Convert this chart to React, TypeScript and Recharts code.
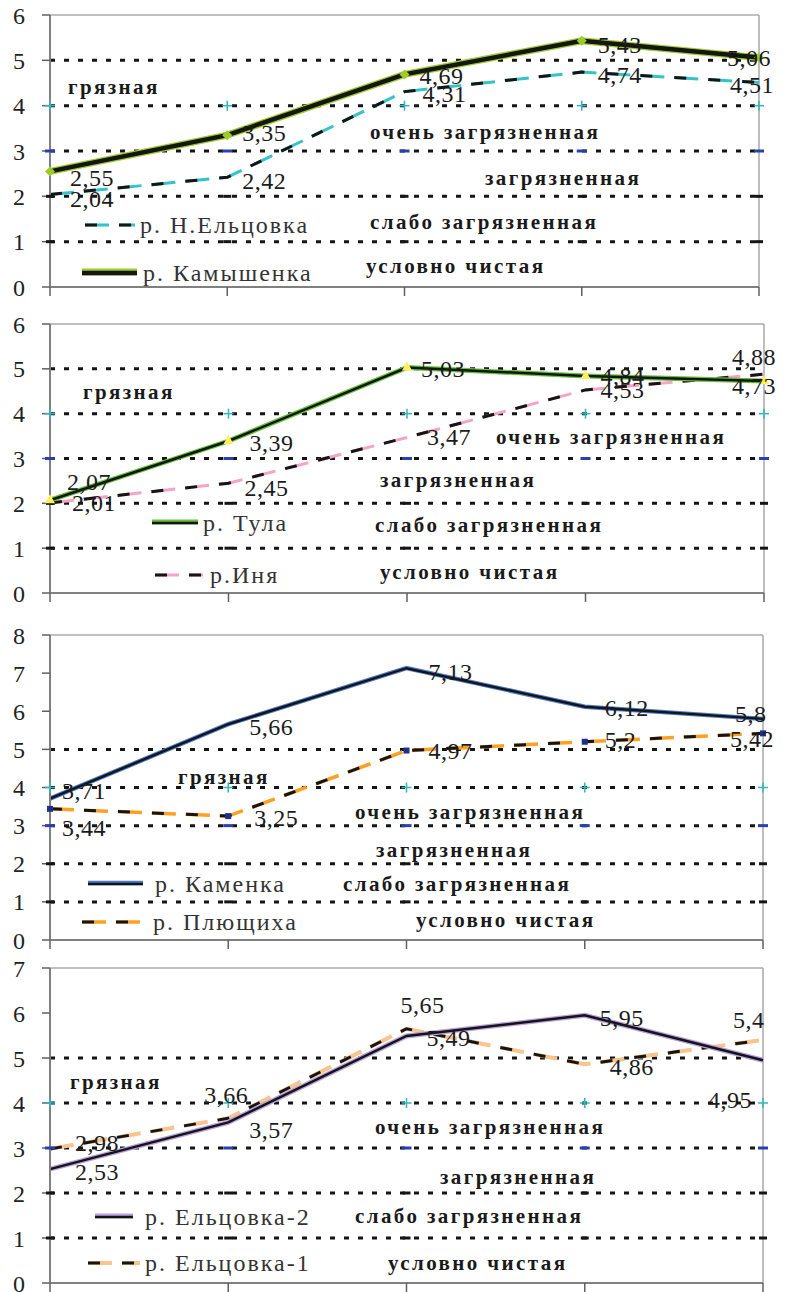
import { LabelList, Line, LineChart, ReferenceDot, ReferenceLine, XAxis, YAxis } from "recharts";

// sampling points along each river (the figure prints no x labels)
const POINTS = ["1", "2", "3", "4", "5"];

const KAMYSHENKA = [2.55, 3.35, 4.69, 5.43, 5.06];
const N_ELTSOVKA = [2.04, 2.42, 4.31, 4.74, 4.51];
const TULA = [2.07, 3.39, 5.03, 4.84, 4.73];
const INYA = [2.01, 2.45, 3.47, 4.53, 4.88];
const KAMENKA = [3.71, 5.66, 7.13, 6.12, 5.8];
const PLYUSHCHIKHA = [3.44, 3.25, 4.97, 5.2, 5.42];
const ELTSOVKA_2 = [2.53, 3.57, 5.49, 5.95, 4.95];
const ELTSOVKA_1 = [2.98, 3.66, 5.65, 4.86, 5.4];

// water quality class boundaries and class names (bottom to top)
const CLASS_BOUNDS = [1, 2, 3, 4, 5];
const CLASS_NAMES = ["условно чистая", "слабо загрязненная", "загрязненная", "очень загрязненная", "грязная"];

const Y_TICKS_6 = [0, 1, 2, 3, 4, 5, 6];
const Y_TICKS_8 = [0, 1, 2, 3, 4, 5, 6, 7, 8];
const Y_TICKS_7 = [0, 1, 2, 3, 4, 5, 6, 7];

const SERIF = "Liberation Serif, Times New Roman, Times, Tinos, Noto Serif, DejaVu Serif, serif";
const INK = "#151515";

type Series = {
  name: string;
  values: number[];
  color: string;
  colorWidth: number;
  blackWidth: number;
  marker?: "diamond" | "triangle" | "square";
  markerColor?: string;
  // label placement: offset of the label's left edge / vertical centre from the point
  labelAt: [number, number][];
};

type Panel = {
  top: number;
  height: number;
  margin: { top: number; right: number; bottom: number };
  xAxisHeight: number;
  ticks: number[];
  solid: Series;
  dashed: Series;
  zones: [number, number][]; // left, centre y for CLASS_NAMES (page coords)
  legend: { which: "solid" | "dashed"; x1: number; x2: number; y: number; tx: number }[];
};

const PANELS: Panel[] = [
  {
    top: 0,
    height: 300,
    margin: { top: 15, right: 27, bottom: 3 },
    xAxisHeight: 10,
    ticks: Y_TICKS_6,
    solid: {
      name: "р. Камышенка",
      values: KAMYSHENKA,
      color: "#9ccc2c",
      colorWidth: 7,
      blackWidth: 4.5,
      marker: "diamond",
      markerColor: "#9ccc2c",
      labelAt: [[20, 7], [15, -2], [15, 2], [16, 4], [-32, 0]],
    },
    dashed: {
      name: "р. Н.Ельцовка",
      values: N_ELTSOVKA,
      color: "#33c3c8",
      colorWidth: 3,
      blackWidth: 3,
      labelAt: [[20, 4], [15, 4], [18, 2], [16, 3], [-29, 2]],
    },
    zones: [[366, 266], [370, 222], [485, 178], [370, 132], [68, 87]],
    legend: [
      { which: "dashed", x1: 85, x2: 135, y: 225, tx: 140 },
      { which: "solid", x1: 82, x2: 137, y: 273, tx: 143 },
    ],
  },
  {
    top: 300,
    height: 310,
    margin: { top: 24, right: 22, bottom: 7 },
    xAxisHeight: 10,
    ticks: Y_TICKS_6,
    solid: {
      name: "р. Тула",
      values: TULA,
      color: "#66c23a",
      colorWidth: 5,
      blackWidth: 2.5,
      marker: "triangle",
      markerColor: "#ffef5a",
      labelAt: [[17, -18], [21, 2], [14, 2], [15, 0], [-32, 5]],
    },
    dashed: {
      name: "р.Иня",
      values: INYA,
      color: "#f5a3c7",
      colorWidth: 3,
      blackWidth: 3,
      labelAt: [[22, 0], [16, 5], [20, 0], [15, 0], [-32, -17]],
    },
    zones: [[380, 572], [375, 525], [380, 480], [496, 437], [83, 392]],
    legend: [
      { which: "solid", x1: 152, x2: 198, y: 523, tx: 203 },
      { which: "dashed", x1: 155, x2: 203, y: 575, tx: 210 },
    ],
  },
  {
    top: 610,
    height: 352,
    margin: { top: 25, right: 23, bottom: 12 },
    xAxisHeight: 10,
    ticks: Y_TICKS_8,
    solid: {
      name: "р. Каменка",
      values: KAMENKA,
      color: "#4b7bd3",
      colorWidth: 4.5,
      blackWidth: 2.5,
      labelAt: [[12, -8], [21, 3], [22, 4], [20, 1], [-28, -5]],
    },
    dashed: {
      name: "р. Плющиха",
      values: PLYUSHCHIKHA,
      color: "#ffa025",
      colorWidth: 3.5,
      blackWidth: 3,
      marker: "square",
      markerColor: "#1f2f8c",
      labelAt: [[12, 19], [26, 2], [22, 0], [20, -2], [-33, 6]],
    },
    zones: [[416, 920], [343, 884], [376, 850], [355, 812], [178, 777]],
    legend: [
      { which: "solid", x1: 88, x2: 143, y: 884, tx: 155 },
      { which: "dashed", x1: 82, x2: 150, y: 922, tx: 153 },
    ],
  },
  {
    top: 950,
    height: 342,
    margin: { top: 18, right: 23, bottom: 0 },
    xAxisHeight: 9,
    ticks: Y_TICKS_7,
    solid: {
      name: "р. Ельцовка-2",
      values: ELTSOVKA_2,
      color: "#b9a0e2",
      colorWidth: 5,
      blackWidth: 2.5,
      labelAt: [[25, 3], [21, 8], [20, 2], [15, 3], [-55, 40]],
    },
    dashed: {
      name: "р. Ельцовка-1",
      values: ELTSOVKA_1,
      color: "#f9c48e",
      colorWidth: 4,
      blackWidth: 3,
      labelAt: [[25, -6], [-24, -23], [-6, -24], [25, 3], [-30, -20]],
    },
    zones: [[388, 1263], [355, 1216], [440, 1177], [375, 1127], [70, 1082]],
    legend: [
      { which: "solid", x1: 95, x2: 133, y: 1217, tx: 145 },
      { which: "dashed", x1: 88, x2: 140, y: 1263, tx: 145 },
    ],
  },
];

const fmt = (v: number) => String(v).replace(".", ",");

function markerDot(kind: Series["marker"], color?: string) {
  if (!kind) return false;
  return (p: any) => {
    const { cx, cy, index } = p;
    if (cx == null || cy == null) return <g key={index} />;
    if (kind === "diamond")
      return <path key={index} d={`M${cx},${cy - 5}L${cx + 5},${cy}L${cx},${cy + 5}L${cx - 5},${cy}Z`} fill={color} />;
    if (kind === "triangle")
      return <path key={index} d={`M${cx},${cy - 6}L${cx + 5},${cy + 3}L${cx - 5},${cy + 3}Z`} fill={color} />;
    return <rect key={index} x={cx - 3} y={cy - 3} width={6} height={6} fill={color} />;
  };
}

// the class boundary series carry their own little markers at each point
function boundMarker(level: number) {
  return (p: any) => {
    const { cx, cy } = p;
    if (level === 4)
      return (
        <g>
          <line x1={cx - 5} x2={cx + 5} y1={cy} y2={cy} stroke="#2fb7bd" strokeWidth={1.5} />
          <line x1={cx} x2={cx} y1={cy - 5} y2={cy + 5} stroke="#2fb7bd" strokeWidth={1.5} />
        </g>
      );
    if (level === 3) return <line x1={cx - 5} x2={cx + 5} y1={cy} y2={cy} stroke="#2a3fb0" strokeWidth={3} />;
    if (level <= 2) return <line x1={cx - 4} x2={cx + 4} y1={cy} y2={cy} stroke={INK} strokeWidth={3} />;
    return <g />;
  };
}

function valueLabel(s: Series) {
  return (p: any) => {
    const { x, y, value, index } = p;
    const [dx, dy] = s.labelAt[index] ?? [16, 3];
    return (
      <text
        key={index}
        x={Number(x) + dx}
        y={Number(y) + dy}
        dominantBaseline="central"
        style={{ fontFamily: SERIF, fontSize: 24, letterSpacing: 0.5 }}
        fill="#1c1c1c"
      >
        {fmt(Number(value))}
      </text>
    );
  };
}

function LegendSample({ s, dashed, x1, x2, y }: { s: Series; dashed: boolean; x1: number; x2: number; y: number }) {
  const w = x2 - x1 + 4;
  return (
    <svg width={w} height={16} style={{ position: "absolute", left: x1 - 2, top: y - 8 }}>
      {dashed ? (
        <>
          <line x1={2} x2={w - 2} y1={8} y2={8} stroke={s.color} strokeWidth={s.colorWidth} strokeDasharray="24 10" />
          <line x1={2} x2={w - 2} y1={8} y2={8} stroke={INK} strokeWidth={s.blackWidth} strokeDasharray="12 22" />
        </>
      ) : (
        <>
          <line x1={2} x2={w - 2} y1={7} y2={7} stroke={s.color} strokeWidth={s.colorWidth} />
          <line x1={2} x2={w - 2} y1={8} y2={8} stroke={INK} strokeWidth={s.blackWidth} />
        </>
      )}
    </svg>
  );
}

function RiverPanel({ cfg }: { cfg: Panel }) {
  const { solid, dashed } = cfg;
  const rows = POINTS.map((p, i) => ({ p, s: solid.values[i], d: dashed.values[i] }));
  const yMax = cfg.ticks[cfg.ticks.length - 1];

  return (
    <div style={{ position: "absolute", left: 0, top: cfg.top, width: 786, height: cfg.height }}>
      <LineChart
        width={786}
        height={cfg.height}
        data={rows}
        margin={{ top: cfg.margin.top, right: cfg.margin.right, bottom: cfg.margin.bottom, left: 0 }}
      >
        <XAxis
          dataKey="p"
          height={cfg.xAxisHeight}
          interval={0}
          tickFormatter={() => ""}
          tickSize={9}
          axisLine={{ stroke: "#808080", strokeWidth: 2 }}
          tickLine={{ stroke: "#606060", strokeWidth: 1.5 }}
        />
        <YAxis
          domain={[0, yMax]}
          ticks={cfg.ticks}
          interval={0}
          width={50}
          tickSize={8}
          tickMargin={17}
          axisLine={{ stroke: "#808080", strokeWidth: 2 }}
          tickLine={{ stroke: "#606060", strokeWidth: 1.5 }}
          tick={{ style: { fontFamily: SERIF, fontSize: 24 }, fill: "#222" }}
        />
        <ReferenceLine y={yMax} stroke="#c0c0c0" strokeWidth={2} />
        <ReferenceLine x={POINTS[POINTS.length - 1]} stroke="#a8a8a8" strokeWidth={1.5} />
        {CLASS_BOUNDS.map((b) => (
          <ReferenceLine key={`b${b}`} y={b} stroke={INK} strokeWidth={3} strokeDasharray="5 9" />
        ))}
        {CLASS_BOUNDS.flatMap((b) =>
          POINTS.map((p) => <ReferenceDot key={`m${b}${p}`} x={p} y={b} r={5} shape={boundMarker(b)} />)
        )}

        <Line
          dataKey="d"
          stroke={dashed.color}
          strokeWidth={dashed.colorWidth}
          strokeDasharray="24 10"
          dot={markerDot(dashed.marker, dashed.markerColor)}
          isAnimationActive={false}
        />
        <Line
          dataKey="d"
          stroke={INK}
          strokeWidth={dashed.blackWidth}
          strokeDasharray="12 22"
          dot={false}
          isAnimationActive={false}
        >
          <LabelList dataKey="d" content={valueLabel(dashed)} />
        </Line>
        <Line
          dataKey="s"
          stroke={solid.color}
          strokeWidth={solid.colorWidth}
          dot={markerDot(solid.marker, solid.markerColor)}
          isAnimationActive={false}
        />
        <Line dataKey="s" stroke={INK} strokeWidth={solid.blackWidth} dot={false} isAnimationActive={false}>
          <LabelList dataKey="s" content={valueLabel(solid)} />
        </Line>
      </LineChart>

      {CLASS_NAMES.map((name, i) => {
        const [x, y] = cfg.zones[i];
        return (
          <div
            key={name}
            style={{
              position: "absolute",
              left: x,
              top: y - cfg.top - 12,
              height: 24,
              lineHeight: "24px",
              fontFamily: SERIF,
              fontWeight: 700,
              fontSize: 21,
              letterSpacing: 2.4,
              color: "#1a1a1a",
              whiteSpace: "nowrap",
            }}
          >
            {name}
          </div>
        );
      })}

      {cfg.legend.map((e) => {
        const s = e.which === "solid" ? solid : dashed;
        return (
          <div key={s.name}>
            <LegendSample s={s} dashed={e.which === "dashed"} x1={e.x1} x2={e.x2} y={e.y - cfg.top} />
            <div
              style={{
                position: "absolute",
                left: e.tx,
                top: e.y - cfg.top - 14,
                height: 28,
                lineHeight: "28px",
                fontFamily: SERIF,
                fontSize: 24,
                letterSpacing: 2,
                color: "#333",
                whiteSpace: "nowrap",
              }}
            >
              {s.name}
            </div>
          </div>
        );
      })}
    </div>
  );
}

export default function App() {
  return (
    <div style={{ position: "absolute", left: 0, top: 0, width: 786, height: 1292, background: "#fff" }}>
      {PANELS.map((cfg, i) => (
        <RiverPanel key={i} cfg={cfg} />
      ))}
    </div>
  );
}
